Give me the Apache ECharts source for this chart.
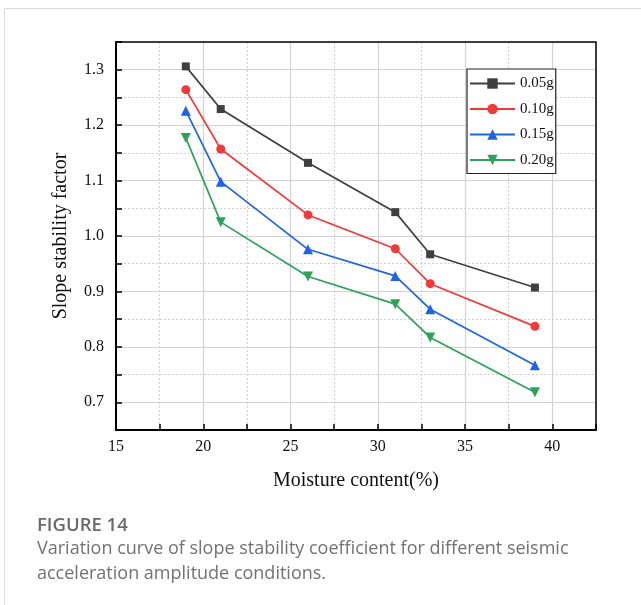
<!DOCTYPE html>
<html>
<head>
<meta charset="utf-8">
<script src="https://cdn.jsdelivr.net/npm/echarts@6/dist/echarts.min.js"></script>
<style>
  html, body { margin: 0; padding: 0; background: #fff; }
  body { width: 641px; height: 605px; position: relative; overflow: hidden; }
  #card { position: absolute; left: 4px; top: 8px; width: 700px; height: 700px; border-left: 1px solid #dcdcdc; border-top: 1px solid #dcdcdc; box-sizing: border-box; }
  #chart { position: absolute; left: 0; top: 0; width: 641px; height: 605px; }
  #figlabel { position: absolute; left: 37px; top: 511px; font-family: "Open Sans", "Noto Sans", sans-serif; font-size: 18.5px; font-weight: 600; color: #6a6a6a; }
  #caption { position: absolute; left: 37px; top: 535px; width: 604px; white-space: nowrap; font-family: "Open Sans", "Noto Sans", sans-serif; font-size: 18px; line-height: 25px; color: #727272; }
</style>
</head>
<body>
<div id="card"></div>
<div id="chart"></div>
<div id="figlabel">FIGURE 14</div>
<div id="caption">Variation curve of slope stability coefficient for different seismic<br>acceleration amplitude conditions.</div>
<script>
// ---- data ----
var moisture = [19, 21, 26, 31, 33, 39];
var seriesNames = ['0.05g', '0.10g', '0.15g', '0.20g'];
var s005 = [1.306, 1.229, 1.132, 1.043, 0.967, 0.907];
var s010 = [1.264, 1.157, 1.038, 0.977, 0.914, 0.837];
var s015 = [1.226, 1.098, 0.976, 0.928, 0.868, 0.767];
var s020 = [1.177, 1.025, 0.927, 0.877, 0.817, 0.718];
var xTickLabels = [15, 20, 25, 30, 35, 40];
var yTickLabels = ['0.7', '0.8', '0.9', '1.0', '1.1', '1.2', '1.3'];
var xLabel = 'Moisture content(%)';
var yLabel = 'Slope stability factor';

var colors = ['#3f3f3f', '#f03a3a', '#1f63e6', '#2ca25a'];
var symbols = ['rect', 'circle', 'triangle', 'path://M0,0 L10,0 L5,9 Z'];
var symSizes = [8, 9, 10, 10];
var allData = [s005, s010, s015, s020];

function pairs(xs, ys) { return xs.map(function (x, i) { return [x, ys[i]]; }); }

var serif = '"Liberation Serif", "Times New Roman", serif';
var TR = 'rgba(0,0,0,0)';

var chart = echarts.init(document.getElementById('chart'), null, { renderer: 'canvas' });

var series = allData.map(function (d, i) {
  return {
    name: seriesNames[i],
    type: 'line',
    xAxisIndex: 0,
    yAxisIndex: 0,
    data: pairs(moisture, d),
    symbol: symbols[i],
    symbolSize: symSizes[i],
    showAllSymbol: true,
    lineStyle: { color: colors[i], width: 1.7 },
    itemStyle: { color: colors[i] },
    z: 10 + i
  };
});

function isMultiple(v, step) {
  var r = v / step;
  return Math.abs(r - Math.round(r)) < 1e-6;
}

var option = {
  animation: false,
  grid: { left: 116, top: 42, right: 45, bottom: 175, show: true, borderColor: '#000', borderWidth: 1.5, backgroundColor: 'transparent', z: 3 },
  legend: {
    show: true,
    orient: 'vertical',
    left: 467, top: 69,
    data: seriesNames,
    itemWidth: 45, itemHeight: 13,
    itemGap: 10.5,
    padding: [7, 2, 6, 2],
    borderColor: '#222', borderWidth: 1.2,
    backgroundColor: '#fff',
    textStyle: { fontFamily: serif, fontSize: 15, color: '#111' },
    z: 20
  },
  xAxis: [
    {
      type: 'value', min: 15, max: 42.5, interval: 2.5,
      name: xLabel, nameLocation: 'middle', nameGap: 41,
      nameTextStyle: { fontFamily: serif, fontSize: 20, color: '#111' },
      axisLine: { show: true, onZero: false, lineStyle: { color: '#000', width: 2 } },
      axisTick: { show: true, inside: true, length: 6, lineStyle: { color: '#000', width: 1.5 } },
      axisLabel: {
        fontFamily: serif, fontSize: 16, color: '#111', margin: 9,
        formatter: function (v) { return isMultiple(v, 5) ? String(Math.round(v)) : ''; }
      },
      splitLine: { show: true, lineStyle: { color: ['#d2d2d2', TR], width: 1.2, type: 'solid' } }
    },
    {
      type: 'value', min: 15, max: 42.5, interval: 2.5, position: 'bottom',
      axisLine: { show: false }, axisTick: { show: false }, axisLabel: { show: false },
      splitLine: { show: true, lineStyle: { color: [TR, '#cfcfcf'], width: 1, type: [2, 2] } }
    }
  ],
  yAxis: [
    {
      type: 'value', min: 0.65, max: 1.35, interval: 0.05,
      name: yLabel, nameLocation: 'middle', nameGap: 45, nameRotate: 90,
      nameTextStyle: { fontFamily: serif, fontSize: 20, color: '#111' },
      axisLine: { show: true, onZero: false, lineStyle: { color: '#000', width: 2 } },
      axisTick: { show: true, inside: true, length: 6, lineStyle: { color: '#000', width: 1.5 } },
      axisLabel: {
        fontFamily: serif, fontSize: 16, color: '#111', margin: 12,
        formatter: function (v) { return isMultiple(v, 0.1) ? (Math.round(v * 10) / 10).toFixed(1) : ''; }
      },
      splitLine: { show: true, lineStyle: { color: [TR, '#d2d2d2'], width: 1.2, type: 'solid' } }
    },
    {
      type: 'value', min: 0.65, max: 1.35, interval: 0.05, position: 'left',
      axisLine: { show: false }, axisTick: { show: false }, axisLabel: { show: false },
      splitLine: { show: true, lineStyle: { color: ['#cfcfcf', TR], width: 1, type: [2, 2] } }
    }
  ],
  series: series
};
chart.setOption(option);
</script>
</body>
</html>
